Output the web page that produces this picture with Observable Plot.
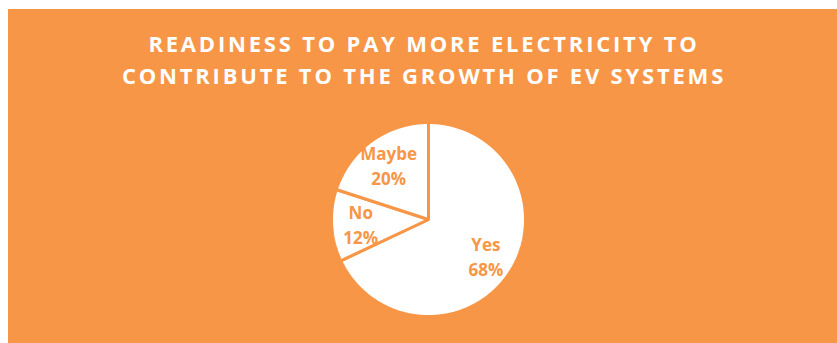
<!DOCTYPE html>
<html>
<head>
<meta charset="utf-8">
<script src="https://cdn.jsdelivr.net/npm/d3@7"></script>
<script src="https://cdn.jsdelivr.net/npm/@observablehq/plot@0.6"></script>
<style>
  html, body { margin: 0; padding: 0; background: #ffffff; }
  #card {
    position: absolute; left: 8px; top: 9px; width: 829px; height: 334px;
    background: #F79646; overflow: hidden;
  }
  #title {
    box-sizing: border-box; height: 83px;
    padding-top: 18px; padding-left: 3px; margin: 0; text-align: center; color: #ffffff;
    font-family: "Open Sans", sans-serif; font-weight: 700; font-size: 22px;
    line-height: 32px; letter-spacing: 2.8px;
  }
  #chart svg { display: block; }
</style>
</head>
<body>
<div id="card">
  <div id="title"></div>
  <div id="chart"></div>
</div>
<script>
const categories = ["Yes", "No", "Maybe"];
const shares = [68, 12, 20];
const titleLines = ["READINESS TO PAY MORE ELECTRICITY TO", "CONTRIBUTE TO THE GROWTH OF EV SYSTEMS"];

const orange = "#F79646";
document.getElementById("title").innerHTML = titleLines.join("<br>");

const rows = categories.map((c, i) => ({cat: c, share: shares[i]}));
const arcs = d3.pie().sort(null).value(d => d.share)(rows);

// polygon outline of each wedge, derived from the pie angles
const points = [];
for (const a of arcs) {
  points.push({cat: a.data.cat, x: 0, y: 0});
  const n = Math.max(2, Math.ceil((a.endAngle - a.startAngle) / (Math.PI / 360)));
  for (let k = 0; k <= n; k++) {
    const t = a.startAngle + (a.endAngle - a.startAngle) * k / n;
    points.push({cat: a.data.cat, x: Math.sin(t), y: Math.cos(t)});
  }
}
const labels = arcs.map(a => {
  const m = (a.startAngle + a.endAngle) / 2;
  return {x: 0.7 * Math.sin(m), y: 0.7 * Math.cos(m), text: `${a.data.cat}\n${a.data.share}%`};
});

const plot = Plot.plot({
  width: 829,
  height: 251,
  margin: 0,
  x: {domain: [-1, 1], range: [323, 517], axis: null},
  y: {domain: [-1, 1], range: [224, 30], axis: null},
  style: {background: "transparent"},
  marks: [
    Plot.line(points, {x: "x", y: "y", z: "cat", curve: "linear-closed", fill: "#ffffff", stroke: orange, strokeWidth: 3, strokeLinejoin: "miter"}),
    Plot.text(labels, {x: "x", y: "y", text: "text", fill: orange, fontSize: 17, fontWeight: 700, fontFamily: "Open Sans", lineHeight: 1.45})
  ]
});
document.getElementById("chart").appendChild(plot);
</script>
</body>
</html>
